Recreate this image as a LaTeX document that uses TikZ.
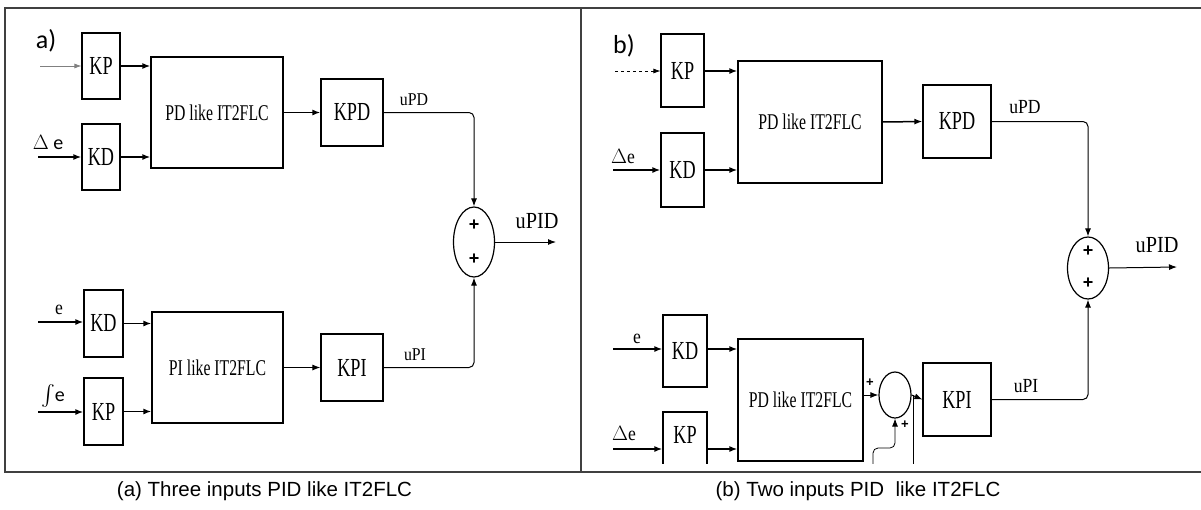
\documentclass[tikz,border=0pt]{standalone}
\usepackage{amsmath}
\usepackage{fontspec}
\setmainfont{Liberation Serif}[FakeStretch=0.88]
\newfontfamily\blkfont{Liberation Serif}[FakeStretch=0.7]
\newfontfamily\capfont{Liberation Sans}
\newfontfamily\tagfont{Carlito}
\usetikzlibrary{arrows.meta,shapes.geometric}
\tikzset{
  blk/.style={draw,line width=1.2pt,inner sep=0pt,font=\blkfont\fontsize{26}{26}\selectfont},
  flc/.style={blk,font=\blkfont\fontsize{22.5}{22.5}\selectfont},
  sig/.style={line width=1.5pt,-{Latex[length=8pt,width=6pt]}},
  feed/.style={line width=0.7pt,gray,-{Latex[length=7pt,width=5pt]}},
  outl/.style={line width=1pt,rounded corners=5pt,-{Latex[length=8pt,width=6pt]}},
  summ/.style={draw,ellipse,line width=1.2pt,inner sep=0pt},
  pls/.style={font=\capfont\bfseries\fontsize{18}{18}\selectfont},
  lbl/.style={font=\fontsize{20}{20}\selectfont},
  big/.style={font=\fontsize{23}{23}\selectfont},
  captxt/.style={font=\capfont\fontsize{20.5}{20.5}\selectfont},
  tagtxt/.style={font=\tagfont\fontsize{26}{26}\selectfont}
}
\begin{document}
\begin{tikzpicture}[x=1pt,y=-1pt]
\useasboundingbox (0,0) rectangle (1201,509);
\draw[line width=1.2pt,black!75] (1201,8) -- (5,8) -- (5,472) -- (1201,472) (581,8) -- (581,472);

\node[tagtxt] (taga) at (46,41) {a)};
\node[blk,minimum width=38,minimum height=66] (kpa) at (101,66) {KP};
\node[blk,minimum width=38,minimum height=66] (kda) at (101,157) {KD};
\node[flc,minimum width=132,minimum height=111] (pda) at (217,112.5) {PD like IT2FLC};
\node[blk,minimum width=62,minimum height=67] (kpda) at (352,112.5) {KPD};
\node[summ,minimum width=41,minimum height=70] (suma) at (474,242) {};
\node[pls] at ([yshift=17pt]suma.center) {+};
\node[pls] at ([yshift=-17pt]suma.center) {+};
\node[blk,minimum width=39,minimum height=67] (kdc) at (103.5,323.5) {KD};
\node[blk,minimum width=39,minimum height=67] (kpc) at (103.5,411.5) {KP};
\node[flc,minimum width=131,minimum height=111] (pia) at (217.5,367.5) {PI like IT2FLC};
\node[blk,minimum width=62,minimum height=67] (kpia) at (352,367.5) {KPI};

\coordinate (ina1) at (40,66);
\coordinate (ina2) at (38,157);
\coordinate (ina3) at (38,322);
\coordinate (ina4) at (38,412);
\coordinate (outa) at (556,242);
\draw[feed] (ina1) -- (kpa.west);
\draw[sig] (ina2) -- (kda.west);
\draw[sig] (ina3) -- (ina3 -| kdc.west);
\draw[sig] (ina4) -- (ina4 -| kpc.west);
\draw[sig] (kpa.east) -- (kpa.east -| pda.west);
\draw[sig] (kda.east) -- (kda.east -| pda.west);
\draw[sig] (kdc.east) -- (kdc.east -| pia.west);
\draw[sig] (kpc.east) -- (kpc.east -| pia.west);
\draw[sig] (pda.east) -- (kpda.west);
\draw[sig,line width=1pt] (pia.east) -- (kpia.west);
\draw[outl] (kpda.east) -| (suma.north);
\draw[outl] (kpia.east) -| (suma.south);
\draw[outl] (suma.east) -- (outa);
\node[font=\tagfont\fontsize{20}{20}\selectfont] (dea) at (48,142) {$\Delta$ e};
\node[lbl] (ea) at (59,310) {e};
\node[font=\tagfont\fontsize{20}{20}\selectfont] (iea) at (53,396) {$\int$e};
\node[lbl,font=\fontsize{18}{18}\selectfont] (upda) at (414,100) {uPD};
\node[lbl,font=\fontsize{18}{18}\selectfont] (upia) at (415,355) {uPI};
\node[big] (upida) at (537,221) {uPID};
\node[captxt] (capa) at (264.5,491) {(a) Three inputs PID like IT2FLC};

\node[tagtxt] (tagb) at (624,46) {b)};
\begin{scope}
\clip (582,9) rectangle (1201,463);
\node[blk,minimum width=43,minimum height=73] (kpb) at (682.5,70.5) {KP};
\node[blk,minimum width=43,minimum height=74] (kdb) at (682.5,170) {KD};
\node[flc,minimum width=144,minimum height=122] (pdb) at (810,122) {PD like IT2FLC};
\node[blk,minimum width=68,minimum height=73] (kpdb) at (957,121.5) {KPD};
\node[summ,minimum width=41,minimum height=62] (sumb) at (1088,268) {};
\node[pls] at ([yshift=17pt]sumb.center) {+};
\node[pls] at ([yshift=-15pt]sumb.center) {+};
\node[blk,minimum width=44,minimum height=72] (kdd) at (685,351) {KD};
\node[blk,minimum width=44,minimum height=72,text depth=26pt] (kpd) at (685,448) {KP};
\node[flc,minimum width=125,minimum height=122] (pdd) at (800.5,400) {PD like IT2FLC};
\node[summ,minimum width=32,minimum height=46] (sumc) at (895,395) {};
\node[blk,minimum width=68,minimum height=73] (kpib) at (957,399.5) {KPI};

\coordinate (inb1) at (615,71);
\coordinate (inb2) at (613,170);
\coordinate (inb3) at (613,349);
\coordinate (inb4) at (613,449);
\coordinate (outb) at (1177,267);
\coordinate (fba) at (873,472);
\coordinate (fbb) at (913,472);
\draw[feed,black,dashed] (inb1) -- (inb1 -| kpb.west);
\draw[sig] (inb2) -- (inb2 -| kdb.west);
\draw[sig] (inb3) -- (inb3 -| kdd.west);
\draw[sig] (inb4) -- (inb4 -| kpd.west);
\draw[sig] (kpb.east |- inb1) -- (inb1 -| pdb.west);
\draw[sig] (kdb.east |- inb2) -- (inb2 -| pdb.west);
\draw[sig] (kdd.east |- inb3) -- (inb3 -| pdd.west);
\draw[sig] (kpd.east |- inb4) -- (inb4 -| pdd.west);
\draw[sig] (pdb.east) -- (kpdb.west);
\draw[sig,line width=1pt] (pdd.east |- sumc.west) -- (sumc.west);
\draw[sig,line width=1pt] (sumc.east) -- (kpib.west);
\draw[line width=1pt] (fbb) -- (fbb |- sumc.east);
\draw[outl,line width=0.8pt] (fba) -- ++(0,-24) -| (sumc.south);
\draw[outl] (kpdb.east) -| (sumb.north);
\draw[outl] (kpib.east) -| (sumb.south);
\draw[outl] (sumb.east) -- (outb);
\end{scope}
\node[pls,font=\capfont\bfseries\fontsize{13}{13}\selectfont] at (870,383) {+};
\node[pls,font=\capfont\bfseries\fontsize{13}{13}\selectfont] at (905,425) {+};
\node[lbl] (deb) at (623,157) {$\Delta$e};
\node[lbl] (eb) at (637,339) {e};
\node[lbl] (ded) at (624,434) {$\Delta$e};
\node[lbl] (updb) at (1025,107) {uPD};
\node[lbl] (upib) at (1026,386) {uPI};
\node[big] (upidb) at (1157,245) {uPID};
\node[captxt] (capb) at (858,491) {(b) Two inputs PID\ \ like IT2FLC};
\end{tikzpicture}
\end{document}
